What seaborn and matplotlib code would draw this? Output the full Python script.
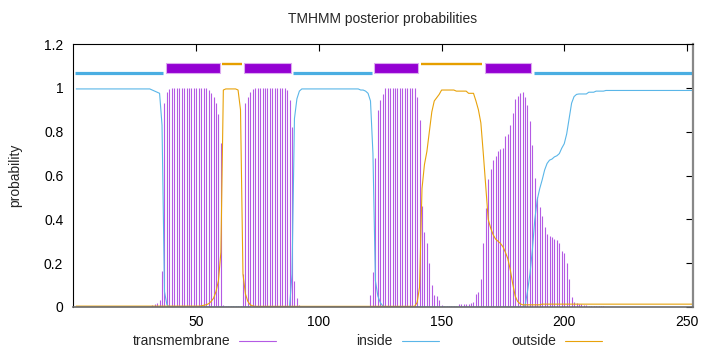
import numpy as np
import pandas as pd
import matplotlib
matplotlib.use("Agg")
import matplotlib.pyplot as plt
import seaborn as sns
from matplotlib.lines import Line2D

# posterior probabilities per residue (1..253)
transmembrane = (
    [0.002] * 31
    + [0.01, 0.015, 0.02, 0.03, 0.165, 0.93, 0.98, 0.995]
    + [1.0] * 15
    + [0.99, 0.975, 0.96, 0.93, 0.88, 0.75, 0.01]
    + [0.003] * 7
    + [0.15, 0.93, 0.96, 0.98, 0.995]
    + [1.0] * 13
    + [0.99, 0.945, 0.82, 0.12, 0.04, 0.01]
    + [0.002] * 28
    + [0.055, 0.16, 0.68, 0.90, 0.945, 0.97]
    + [1.0] * 13
    + [0.96, 0.853, 0.46, 0.34, 0.29, 0.2, 0.1, 0.055, 0.05, 0.03, 0.01]
    + [0.006] * 6
    + [0.012] * 5
    + [0.02, 0.025, 0.06, 0.07, 0.13, 0.29, 0.45, 0.585, 0.63, 0.67, 0.69,
       0.71, 0.72, 0.725, 0.78, 0.79, 0.83, 0.885, 0.95, 0.965, 0.975, 0.98,
       0.96, 0.92, 0.85, 0.74]
    + [0.587, 0.50, 0.458, 0.415, 0.367, 0.333, 0.324, 0.318, 0.309, 0.305,
       0.29, 0.255, 0.245, 0.2, 0.13, 0.047, 0.024, 0.02, 0.015, 0.012, 0.01,
       0.007, 0.006, 0.005]
    + [0.003] * 5
    + [0.001] * 37
)

inside = (
    [0.995] * 31
    + [0.99, 0.985, 0.98, 0.975, 0.83, 0.07, 0.01]
    + [0.0] * 50
    + [0.15, 0.86, 0.95, 0.985]
    + [0.995] * 24
    + [0.99, 0.99, 0.985, 0.975, 0.94, 0.7, 0.12, 0.05, 0.02, 0.005]
    + [0.0] * 57
    + [0.005, 0.07, 0.15, 0.26, 0.4, 0.49, 0.54, 0.58, 0.625, 0.655, 0.67,
       0.675, 0.685, 0.69, 0.70, 0.725, 0.745, 0.79, 0.86, 0.93, 0.96, 0.97]
    + [0.972] * 4
    + [0.98] * 3
    + [0.985] * 4
    + [0.988] * 37
)

outside = (
    [0.004] * 51
    + [0.005, 0.008, 0.01, 0.015, 0.025, 0.04, 0.07, 0.12, 0.25, 0.99]
    + [0.995] * 5
    + [0.99, 0.9, 0.15, 0.06, 0.025, 0.01, 0.005]
    + [0.003] * 65
    + [0.003, 0.02, 0.09, 0.54, 0.65, 0.71, 0.8, 0.89, 0.94, 0.955, 0.97, 0.99]
    + [0.99] * 5
    + [0.985] * 5
    + [0.975] * 3
    + [0.94, 0.9, 0.84, 0.7, 0.55, 0.4, 0.36, 0.33, 0.31, 0.3, 0.29, 0.275,
       0.25, 0.22, 0.17, 0.105, 0.05, 0.025, 0.015]
    + [0.01] * 8
    + [0.013] * 63
)

# predicted topology shown as the bar above the curves
topo_label = ['inside', 'TMhelix', 'outside', 'TMhelix', 'inside',
              'TMhelix', 'outside', 'TMhelix', 'inside']
topo_start = [1, 38, 61, 70, 90, 123, 142, 168, 188]
topo_end = [36, 59, 68, 88, 121, 140, 166, 186, 253]

xticks = [50, 100, 150, 200, 250]
yticks = [0, 0.2, 0.4, 0.6, 0.8, 1, 1.2]

TM_C = '#b45ae4'
IN_C = '#5ab6e8'
OUT_C = '#e8a20a'


def main():
    df = pd.DataFrame({
        'pos': np.arange(1, len(inside) + 1),
        'transmembrane': transmembrane,
        'inside': inside,
        'outside': outside,
    })

    sns.set_theme(style="white")
    plt.rcParams['font.family'] = ['Liberation Sans', 'DejaVu Sans']

    fig = plt.figure(figsize=(7.2, 3.52), dpi=100)
    ax = fig.add_axes([73 / 720, 45 / 352, 620 / 720, 263 / 352])

    # impulses for TM, lines for inside / outside
    ax.vlines(df['pos'], 0, df['transmembrane'], color=TM_C, lw=0.8)
    sns.lineplot(data=df, x='pos', y='inside', ax=ax, color=IN_C, lw=0.8,
                 legend=False)
    sns.lineplot(data=df, x='pos', y='outside', ax=ax, color=OUT_C, lw=0.8,
                 legend=False)

    # topology bar
    for lab, s, e in zip(topo_label, topo_start, topo_end):
        xs = [s - 0.5, e + 0.5]
        if lab == 'TMhelix':
            ax.fill_between(xs, 1.067, 1.113, facecolor='#9400d3',
                            edgecolor='#dcaaf0', lw=0.8)
        elif lab == 'inside':
            ax.plot(xs, [1.069, 1.069], color='#4aaee2', lw=2.3,
                    solid_capstyle='butt')
        else:
            ax.plot(xs, [1.11, 1.11], color='#e69f00', lw=1.7,
                    solid_capstyle='butt')

    ax.set_xlim(-0.3, 252.5)
    ax.set_ylim(0, 1.2)
    ax.set_xticks(xticks)
    ax.set_yticks(yticks)
    ax.set_yticklabels([f'{v:g}' for v in yticks])
    ax.tick_params(direction='in', top=True, right=True, length=5, width=0.8,
                   labelsize=10, colors='black')
    ax.tick_params(axis='x', pad=6)
    ax.tick_params(axis='y', pad=7)
    ax.set_xlabel('')
    ax.set_ylabel('probability', fontsize=10)
    ax.yaxis.set_label_coords(-0.0823, 0.5)

    for side in ['left', 'top']:
        ax.spines[side].set_color('black')
        ax.spines[side].set_linewidth(0.8)
    ax.spines['right'].set_color('#888888')
    ax.spines['right'].set_linewidth(1.6)
    ax.spines['bottom'].set_color('#6b6b6b')
    ax.spines['bottom'].set_linewidth(1.2)

    fig.text(383 / 720, 1 - 19 / 352, 'TMHMM posterior probabilities',
             ha='center', va='center', fontsize=10)

    # gnuplot-style key: label right-aligned, sample line after it
    ly = 1 - 341 / 352
    for i, (lab, c) in enumerate([('transmembrane', TM_C), ('inside', IN_C),
                                  ('outside', OUT_C)]):
        x0 = 239 + 163 * i
        fig.text((x0 - 9) / 720, ly, lab, ha='right', va='center',
                 fontsize=10)
        fig.add_artist(Line2D([x0 / 720, (x0 + 37) / 720], [ly, ly],
                              color=c, lw=0.8, transform=fig.transFigure))

    fig.savefig('out.png', dpi=100)


if __name__ == "__main__":
    main()
